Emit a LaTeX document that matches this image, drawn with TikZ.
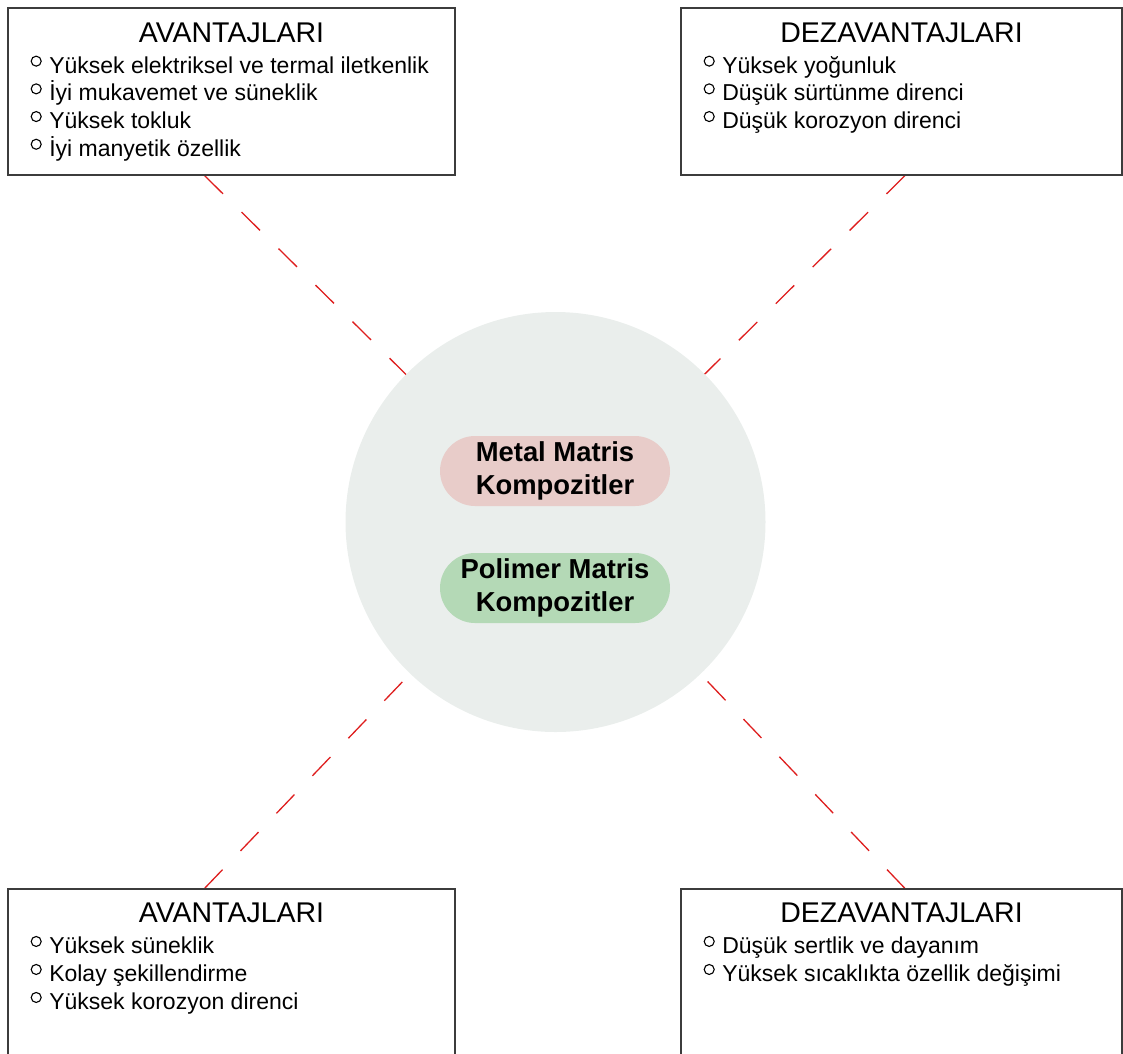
\documentclass[tikz,border=0pt]{standalone}
\usepackage{fontspec}
\setmainfont{Liberation Sans}
\usepackage{tikz}
\usetikzlibrary{shapes.misc,backgrounds}
\definecolor{HubFill}{RGB}{234,238,236}
\definecolor{MetalFill}{RGB}{232,204,201}
\definecolor{PolyFill}{RGB}{180,217,182}
\definecolor{LinkRed}{RGB}{222,30,30}
\definecolor{BoxLine}{RGB}{60,60,60}
\newcommand{\ring}{\tikz[baseline=-12pt]\draw[line width=1.1pt] (0,0) circle (5pt);}

\begin{document}
\begin{tikzpicture}[x=1pt,y=-1pt,
  box/.style={draw=BoxLine,line width=1.1pt,rectangle,minimum width=447pt,inner sep=0pt},
  ttl/.style={anchor=base,font=\fontsize{28.5}{30}\selectfont,inner sep=0pt},
  item/.style={anchor=base west,font=\fontsize{23}{26}\selectfont,inner sep=0pt},
  pill/.style={rounded rectangle,fill=#1,minimum width=230pt,minimum height=70pt,inner sep=0pt,
    align=center,font=\fontsize{27.4}{33}\selectfont\bfseries},
  link/.style={draw=LinkRed,line width=1.3pt,dash pattern=on 26pt off 26pt}]
\useasboundingbox (0,0) rectangle (1123,1053);
% four boxes
\node[box,minimum height=167pt] (tlbox) at (231.5,91.5) {};
\node[box,minimum width=441pt,minimum height=167pt] (trbox) at (901.5,91.5) {};
\node[box,minimum height=190pt] (blbox) at (231.5,984) {};
\node[box,minimum width=441pt,minimum height=190pt] (brbox) at (901.5,984) {};
% titles
\node[ttl] (tlttl) at ([yshift=-35]tlbox.north) {AVANTAJLARI};
\node[ttl] (trttl) at ([yshift=-35]trbox.north) {DEZAVANTAJLARI};
\node[ttl] (blttl) at ([yshift=-34]blbox.north) {AVANTAJLARI};
\node[ttl] (brttl) at ([yshift=-34]brbox.north) {DEZAVANTAJLARI};
% bullet lists
\foreach \t [count=\i] in {Yüksek elektriksel ve termal iletkenlik,İyi mukavemet ve süneklik,Yüksek tokluk,İyi manyetik özellik}
  \node[item] (tl-\i) at ([shift={(23,38+27.7*\i)}]tlbox.north west) {\ring\hspace{7.5pt}\t};
\foreach \t [count=\i] in {Yüksek yoğunluk,Düşük sürtünme direnci,Düşük korozyon direnci}
  \node[item] (tr-\i) at ([shift={(23,38+27.7*\i)}]trbox.north west) {\ring\hspace{7.5pt}\t};
\foreach \t [count=\i] in {Yüksek süneklik,Kolay şekillendirme,Yüksek korozyon direnci}
  \node[item] (bl-\i) at ([shift={(23,37+28*\i)}]blbox.north west) {\ring\hspace{7.5pt}\t};
\foreach \t [count=\i] in {Düşük sertlik ve dayanım,Yüksek sıcaklıkta özellik değişimi}
  \node[item] (br-\i) at ([shift={(23,37+28*\i)}]brbox.north west) {\ring\hspace{7.5pt}\t};
% centre
\node[circle,fill=HubFill,minimum size=420pt,inner sep=0pt] (hub) at (555.5,522) {};
\node[pill=MetalFill] (metal) at (555,471) {Metal Matris\\Kompozitler};
\node[pill=PolyFill] (poly) at (555,588) {Polimer Matris\\Kompozitler};
% dashed links, behind the circle
\begin{scope}[on background layer]
\draw[link] ([xshift=-27]tlbox.south) -- (hub.center);
\draw[link] ([xshift=3.5]trbox.south) -- (hub.center);
\draw[link] ([xshift=-27]blbox.north) -- (hub.center);
\draw[link] ([xshift=3.5]brbox.north) -- (hub.center);
\end{scope}
\end{tikzpicture}
\end{document}
